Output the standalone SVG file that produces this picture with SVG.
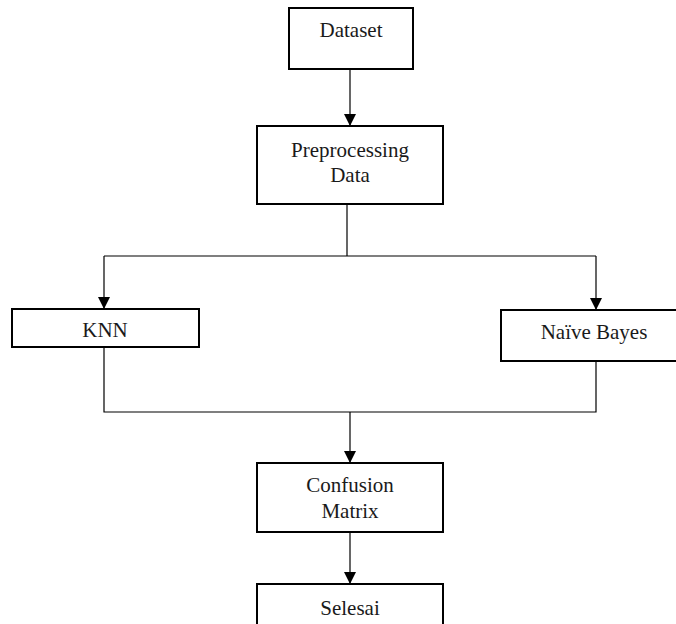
<svg xmlns="http://www.w3.org/2000/svg" width="676" height="624" viewBox="0 0 676 624">
  <style>
    .box { fill: #ffffff; stroke: #000000; stroke-width: 2; }
    .lbl { font-family: "Liberation Serif", "Times New Roman", serif; font-size: 21px; fill: #1a1a1a; text-anchor: middle; }
    .con { fill: none; stroke: #000000; stroke-width: 1.2; }
  </style>
  <defs>
    <marker id="arrow" viewBox="0 0 12 12" refX="12" refY="6" markerWidth="12" markerHeight="12" markerUnits="userSpaceOnUse" orient="auto">
      <path d="M0,0 L12,6 L0,12 Z" fill="#000000"/>
    </marker>
  </defs>
  <rect width="676" height="624" fill="#ffffff"/>
  <g id="connectors">
    <line class="con" x1="350" y1="69" x2="350" y2="126" marker-end="url(#arrow)"/>
    <polyline class="con" points="347,204 347,256"/>
    <polyline class="con" points="104,256 596,256"/>
    <line class="con" x1="104" y1="256" x2="104" y2="309" marker-end="url(#arrow)"/>
    <line class="con" x1="596" y1="256" x2="596" y2="310" marker-end="url(#arrow)"/>
    <polyline class="con" points="104,348 104,412 596,412 596,361"/>
    <line class="con" x1="350" y1="412" x2="350" y2="463" marker-end="url(#arrow)"/>
    <line class="con" x1="350" y1="532" x2="350" y2="584" marker-end="url(#arrow)"/>
  </g>
  <g id="dataset">
    <rect class="box" x="289" y="8" width="124" height="61"/>
    <text class="lbl" x="351" y="37">Dataset</text>
  </g>
  <g id="preprocessing">
    <rect class="box" x="257" y="126" width="186" height="78"/>
    <text class="lbl" x="350" y="157">Preprocessing</text>
    <text class="lbl" x="350" y="182">Data</text>
  </g>
  <g id="knn">
    <rect class="box" x="12" y="309" width="187" height="38"/>
    <text class="lbl" x="105" y="337">KNN</text>
  </g>
  <g id="naive-bayes">
    <rect class="box" x="501" y="310" width="180" height="51"/>
    <text class="lbl" x="594" y="339">Naïve Bayes</text>
  </g>
  <g id="confusion-matrix">
    <rect class="box" x="257" y="463" width="186" height="69"/>
    <text class="lbl" x="350" y="492">Confusion</text>
    <text class="lbl" x="350" y="518">Matrix</text>
  </g>
  <g id="selesai">
    <rect class="box" x="257" y="584" width="186" height="60"/>
    <text class="lbl" x="350" y="615">Selesai</text>
  </g>
</svg>
